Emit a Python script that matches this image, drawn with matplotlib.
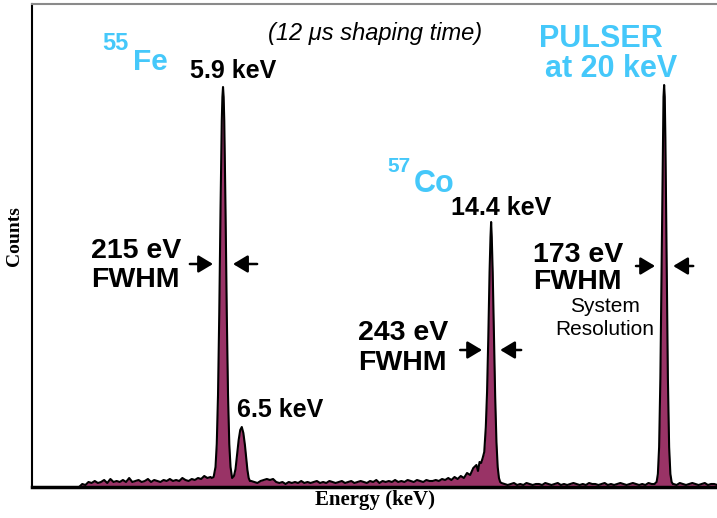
import numpy as np
import matplotlib.pyplot as plt

# ---- spectrum data (energy in keV, counts in arbitrary units) ----
# flat background segments, one value every 0.1 keV starting at the given energy
bg_a_start = 1.3
bg_a = [0, 30, 20, 50, 40, 60, 40, 50, 70, 40, 80, 50, 60, 50, 70, 50, 90, 50, 60, 70,
        50, 60, 80, 50, 70, 60, 50, 70, 60, 80, 60, 70, 60, 90, 70, 60, 80, 70, 90, 80,
        110, 90, 100]
bg_b_start = 6.8
bg_b = [60, 50, 40, 60, 70, 80, 70, 80, 50, 40, 50, 30, 50, 40, 50, 40, 60, 40, 50, 40,
        50, 60, 40, 50, 40, 60, 50, 40, 50, 60, 40, 50, 60, 40, 50, 60, 50, 40, 60, 50,
        70, 40, 60, 50, 60, 50, 70, 50, 60, 50, 70, 60, 50, 70, 60, 50, 70, 60]
bg_c_start = 14.8
bg_c = [40, 30, 20, 30, 40, 20, 30, 20, 40, 30, 20, 30, 30, 20, 40, 30, 20, 30, 40, 20,
        30, 20, 30, 40, 30, 20, 30, 20, 40, 30, 30, 20, 30, 40, 20, 30, 20, 30, 40, 30,
        20, 30, 40, 30, 20, 30, 20, 40, 30, 30]
bg_d_start = 20.3
bg_d = [30, 20, 40, 30, 20, 30, 40, 30, 20, 30, 40, 20, 30, 30, 20]

# Fe-55 Mn K-alpha (5.9 keV) and K-beta (6.5 keV) lines
fe_e = [5.54, 5.60, 5.66, 5.70, 5.74, 5.78, 5.82, 5.86, 5.88, 5.90, 5.92, 5.94, 5.98,
        6.02, 6.06, 6.10, 6.14, 6.19, 6.25, 6.30, 6.35, 6.40, 6.45, 6.50, 6.55, 6.60,
        6.64, 6.68, 6.72, 6.76]
fe_c = [90, 100, 200, 430, 920, 1740, 2770, 3660, 3900, 4000, 3900, 3660, 2770,
        1740, 920, 430, 200, 90, 110, 180, 330, 470, 570, 600, 540, 420,
        300, 170, 90, 60]

# Co-57 14.4 keV line with its low-energy tail
co_e = [12.6, 12.7, 12.8, 12.9, 13.0, 13.1, 13.2, 13.3, 13.4, 13.5, 13.6, 13.7, 13.8,
        13.9, 14.0, 14.05, 14.1, 14.15, 14.2, 14.25, 14.30, 14.34, 14.38, 14.42, 14.45,
        14.47, 14.49, 14.52, 14.56, 14.60, 14.64, 14.68, 14.72, 14.76]
co_c = [60, 70, 60, 80, 70, 90, 70, 100, 80, 110, 90, 140, 120,
        190, 220, 160, 250, 240, 290, 350, 600, 950, 1500, 2150, 2500,
        2650, 2500, 2150, 1500, 900, 450, 200, 90, 50]

# pulser at 20 keV
pu_e = [19.72, 19.76, 19.80, 19.84, 19.88, 19.92, 19.96, 19.98, 20.00, 20.02, 20.04,
        20.08, 20.12, 20.16, 20.20, 20.24, 20.28]
pu_c = [40, 50, 130, 400, 1090, 2250, 3490, 3900, 4020, 3900, 3490,
        2250, 1090, 400, 130, 50, 30]


def bg_seg(start, vals):
    e = np.round(start + 0.1 * np.arange(len(vals)), 2)
    return list(e), list(vals)


energy = []
counts = []
for e, c in [bg_seg(bg_a_start, bg_a), (fe_e, fe_c), bg_seg(bg_b_start, bg_b),
             (co_e, co_c), bg_seg(bg_c_start, bg_c), (pu_e, pu_c),
             bg_seg(bg_d_start, bg_d)]:
    energy += list(e)
    counts += list(c)
energy = np.array(energy)
counts = np.array(counts)
order = np.argsort(energy)
energy = energy[order]
counts = counts[order]

cyan = '#45C8FA'
fill = '#993366'
sans = 'Liberation Sans'

fig = plt.figure(figsize=(7.17, 5.18), dpi=100)
ax = fig.add_axes([32 / 717, 31 / 518, 685 / 717, 483 / 518])

ax.fill_between(energy, counts, 0, color=fill, lw=0)
ax.plot(energy, counts, color='black', lw=1.5)

ax.set_xlim(-0.206, 21.69)
ax.set_ylim(0, 4830)
ax.set_xticks([])
ax.set_yticks([])
ax.spines['right'].set_visible(False)
ax.spines['top'].set_color('#8a8a8a')
ax.spines['top'].set_linewidth(1.5)
ax.spines['left'].set_linewidth(1.5)
ax.spines['bottom'].set_linewidth(2.5)

fig.text(15 / 717, 1 - 236 / 518, 'Counts', rotation=90, ha='center', va='center',
         family='Liberation Serif', weight='bold', fontsize=14)
fig.text(375 / 717, 1 - 500 / 518, 'Energy (keV)', ha='center', va='center',
         family='Liberation Serif', weight='bold', fontsize=15)

ax.text(10.76, 4470, '(12 μs shaping time)', ha='center', va='baseline',
        family=sans, style='italic', fontsize=17)

# isotope / source labels
ax.text(2.04, 4370, '55', ha='left', va='baseline', family=sans, weight='bold',
        fontsize=17, color=cyan)
ax.text(3.02, 4170, 'Fe', ha='left', va='baseline', family=sans, weight='bold',
        fontsize=21.5, color=cyan)
ax.text(11.17, 3150, '57', ha='left', va='baseline', family=sans, weight='bold',
        fontsize=15, color=cyan)
ax.text(12.0, 2950, 'Co', ha='left', va='baseline', family=sans, weight='bold',
        fontsize=22, color=cyan)
ax.text(17.98, 4400, 'PULSER', ha='center', va='baseline', family=sans, weight='bold',
        fontsize=22, color=cyan)
ax.text(18.3, 4100, 'at 20 keV', ha='center', va='baseline', family=sans, weight='bold',
        fontsize=22, color=cyan)

# line energies
ax.text(6.22, 4090, '5.9 keV', ha='center', va='baseline', family=sans, weight='bold', fontsize=18)
ax.text(7.72, 700, '6.5 keV', ha='center', va='baseline', family=sans, weight='bold', fontsize=18)
ax.text(14.79, 2720, '14.4 keV', ha='center', va='baseline', family=sans, weight='bold', fontsize=18)

# resolutions
ax.text(1.68, 2290, '215 eV', ha='left', va='baseline', family=sans, weight='bold', fontsize=20.5)
ax.text(1.68, 2000, 'FWHM', ha='left', va='baseline', family=sans, weight='bold', fontsize=20.5)
ax.text(10.22, 1470, '243 eV', ha='left', va='baseline', family=sans, weight='bold', fontsize=20.5)
ax.text(10.22, 1170, 'FWHM', ha='left', va='baseline', family=sans, weight='bold', fontsize=20.5)
ax.text(15.81, 2250, '173 eV', ha='left', va='baseline', family=sans, weight='bold', fontsize=20.5)
ax.text(15.81, 1980, 'FWHM', ha='left', va='baseline', family=sans, weight='bold', fontsize=20.5)
ax.text(18.12, 1750, 'System', ha='center', va='baseline', family=sans, fontsize=15)
ax.text(18.1, 1520, 'Resolution', ha='center', va='baseline', family=sans, fontsize=15)

arrow = dict(arrowstyle='-|>,head_length=0.4,head_width=0.24', color='black', lw=1.8,
             mutation_scale=22, shrinkA=0, shrinkB=0)
for tail, head, y in [(4.84, 5.58, 2230), (6.99, 6.22, 2230),
                      (13.48, 14.18, 1370), (15.43, 14.76, 1370),
                      (19.10, 19.71, 2210), (20.93, 20.29, 2210)]:
    ax.annotate('', xy=(head, y), xytext=(tail, y), arrowprops=arrow)

fig.savefig('out.png', dpi=100)
